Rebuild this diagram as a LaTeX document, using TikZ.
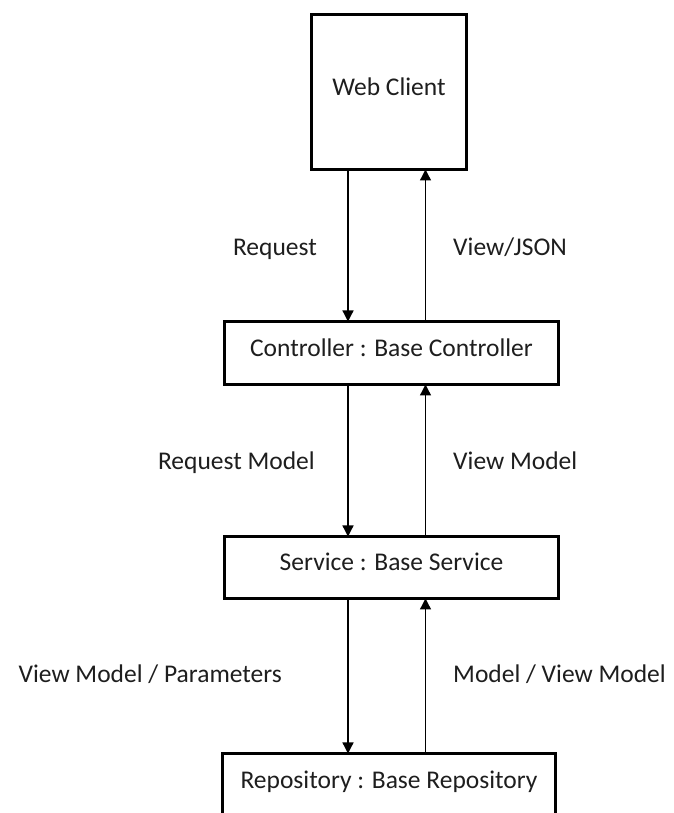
\documentclass[tikz,border=0pt]{standalone}
\usepackage{fontspec}
\setmainfont{Carlito}
\usetikzlibrary{arrows.meta}
\definecolor{txt}{RGB}{30,30,30}
\tikzset{
  box/.style={draw=black, line width=3pt, fill=white, inner sep=0pt, outer sep=0pt,
    text=txt, text height=0.644em, text depth=0pt, align=center},
  arr/.style={draw=black, line width=1.3pt, -{Triangle[length=11pt,width=11pt]}},
  lbl/.style={text=txt, inner sep=0pt}
}
\begin{document}
\begin{tikzpicture}[x=1pt,y=1pt,font=\fontsize{25.5}{30}\selectfont]
\useasboundingbox (0,0) rectangle (673,813);
\clip (0,0) rectangle (673,813);
\fill[white] (0,0) rectangle (673,813);

\node[box, minimum width=155pt, minimum height=155pt] (wc) at (389,721) {Web Client};
\node[box, minimum width=334pt, minimum height=63pt] (ctrl) at (391.5,460) {Controller : Base Controller};
\node[box, minimum width=334pt, minimum height=62pt] (svc) at (391.5,245.5) {Service : Base Service};
\node[box, minimum width=333pt, minimum height=63pt] (repo) at (389,28) {Repository : Base Repository};

\coordinate (cL) at (348,0);
\coordinate (cR) at (425.5,0);

\draw[arr] (wc.south -| cL) -- (ctrl.north -| cL);
\draw[arr] (ctrl.north -| cR) -- (wc.south -| cR);
\draw[arr] (ctrl.south -| cL) -- (svc.north -| cL);
\draw[arr] (svc.north -| cR) -- (ctrl.south -| cR);
\draw[arr] (svc.south -| cL) -- (repo.north -| cL);
\draw[arr] (repo.north -| cR) -- (svc.south -| cR);

\node[lbl, anchor=base east] (l1) at (317,557) {Request};
\node[lbl, anchor=base west] (l2) at (453,557) {View/JSON};
\node[lbl, anchor=base east] (l3) at (315,343) {Request Model};
\node[lbl, anchor=base west] (l4) at (453,343) {View Model};
\node[lbl, anchor=base east] (l5) at (282,130) {View Model / Parameters};
\node[lbl, anchor=base west] (l6) at (453,130) {Model / View Model};
\end{tikzpicture}
\end{document}
